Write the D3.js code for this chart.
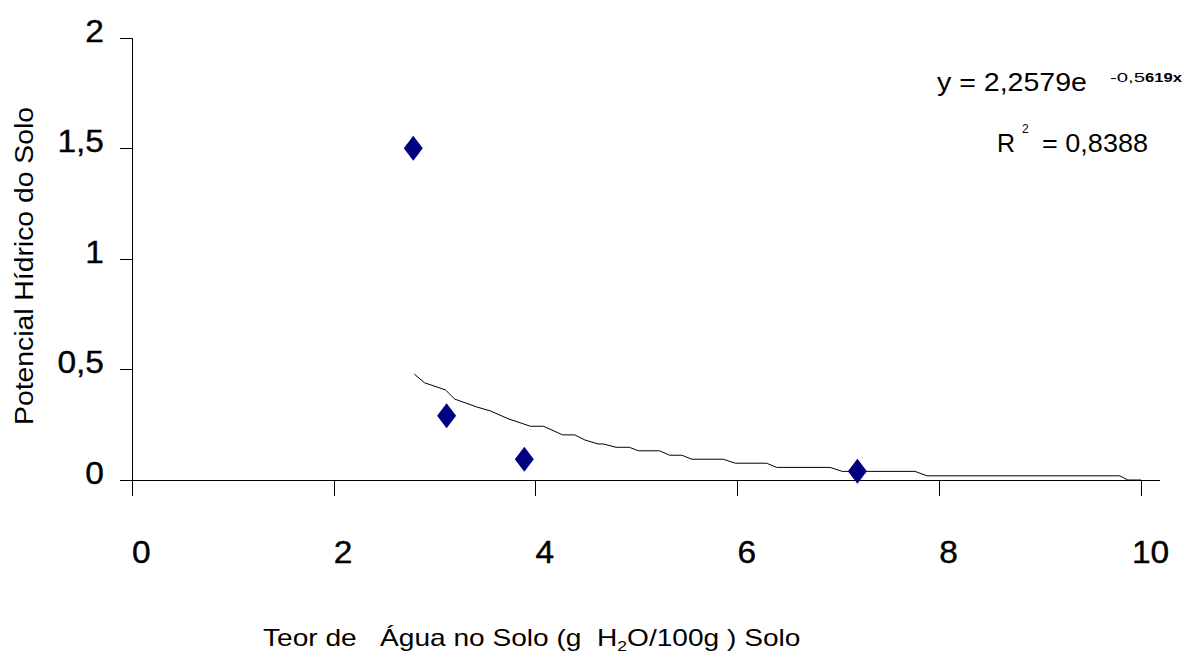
<!DOCTYPE html>
<html>
<head>
<meta charset="utf-8">
<script src="https://cdn.jsdelivr.net/npm/d3@7"></script>
<style>
  body { margin: 0; background: #fff; }
  svg { display: block; font-family: "Liberation Sans", Arial, sans-serif; }
  text { fill: #000; }
</style>
</head>
<body>
<div id="chart"></div>
<script>
// ticks
const xTicks = [0, 2, 4, 6, 8, 10];
const yTicks = [0, 0.5, 1, 1.5, 2];

// measured points (teor de agua, potencial hidrico)
const pointX = [2.79, 3.12, 3.89, 7.19];
const pointY = [1.5, 0.29, 0.094, 0.04];

// trendline as drawn in the picture (stepped)
const trendX = [2.80, 2.90, 3.11, 3.20, 3.42, 3.55, 3.73, 3.95, 4.08, 4.27, 4.39, 4.49, 4.62, 4.67,
  4.80, 4.93, 5.02, 5.23, 5.33, 5.45, 5.55, 5.86, 5.98, 6.29, 6.39, 6.92, 7.04, 7.76, 7.88, 9.79, 9.87, 10.0];
const trendY = [0.479, 0.440, 0.407, 0.366, 0.330, 0.313, 0.277, 0.243, 0.243, 0.204, 0.204, 0.181, 0.163, 0.163,
  0.148, 0.148, 0.132, 0.132, 0.112, 0.112, 0.094, 0.094, 0.076, 0.076, 0.057, 0.057, 0.039, 0.039, 0.019, 0.019, 0, 0];

const svgWidth = 1185, svgHeight = 656;
const fmt = d => String(d).replace(".", ",");

const svg = d3.select("#chart").append("svg")
    .attr("width", svgWidth)
    .attr("height", svgHeight);

let x = d3.scaleLinear().domain([0, 10]).range([131.7, 1141]);
let y = d3.scaleLinear().domain([0, 2]).range([480, 37.7]);

// stretch a text horizontally (the reference font is wider than Arial)
function stretch(sel, k) {
    sel.each(function () {
        let w = this.getComputedTextLength();
        d3.select(this).attr("textLength", w * k).attr("lengthAdjust", "spacingAndGlyphs");
    });
}

// x axis
let xAxis = svg.append("g")
    .attr("transform", "translate(0," + y(0) + ")")
    .call(d3.axisBottom(x).tickValues(xTicks).tickSize(16).tickSizeOuter(0).tickFormat(fmt));
xAxis.select(".domain").remove();
xAxis.append("line")
    .attr("x1", x(0)).attr("x2", x(10) + 19)
    .attr("stroke", "#000");
xAxis.selectAll("line").attr("stroke", "#000").attr("shape-rendering", "crispEdges");
xAxis.selectAll(".tick text")
    .attr("x", 9).attr("y", 83).attr("dy", 0)
    .attr("fill", "#000")
    .style("font-size", "31px")
    .attr("stroke", "#000").attr("stroke-width", 0.4)
    .call(stretch, 1.08);

// y axis
let yAxis = svg.append("g")
    .attr("transform", "translate(" + x(0) + ",0)")
    .call(d3.axisLeft(y).tickValues(yTicks).tickSize(12).tickSizeOuter(0).tickFormat(fmt));
yAxis.select(".domain").attr("stroke", "#000").attr("shape-rendering", "crispEdges");
yAxis.selectAll("line").attr("stroke", "#000").attr("shape-rendering", "crispEdges");
yAxis.selectAll(".tick text")
    .attr("x", -27.7).attr("dy", 3.5)
    .attr("fill", "#000")
    .style("font-size", "31px")
    .attr("stroke", "#000").attr("stroke-width", 0.4)
    .call(stretch, 1.08);

// axis titles
svg.append("text")
    .attr("transform", "translate(33,266) rotate(-90)")
    .attr("text-anchor", "middle")
    .style("font-size", "26px")
    .attr("textLength", 318).attr("lengthAdjust", "spacingAndGlyphs")
    .text("Potencial Hídrico do Solo");

let xt = svg.append("text")
    .attr("x", 263).attr("y", 646)
    .style("font-size", "24px")
    .style("white-space", "pre");
xt.append("tspan").text("Teor de   Água no Solo (g  H");
xt.append("tspan").attr("dy", 5).style("font-size", "15px").text("2");
xt.append("tspan").attr("dy", -5).text("O/100g ) Solo");
stretch(xt, 1.17);

// trendline
let line = d3.line()
    .x((d, i) => x(trendX[i]))
    .y((d, i) => y(trendY[i]));
svg.append("path")
    .datum(trendX)
    .attr("d", line)
    .attr("fill", "none")
    .attr("stroke", "#000")
    .attr("stroke-width", 1);

// points
svg.selectAll(".pt")
    .data(pointX)
    .enter().append("path")
    .attr("class", "pt")
    .attr("d", "M0,-12.5L9.5,0L0,12.5L-9.5,0Z")
    .attr("fill", "#000080")
    .attr("transform", (d, i) => "translate(" + x(d) + "," + y(pointY[i]) + ")");

// equation
svg.append("text").attr("x", 937).attr("y", 91)
    .style("font-size", "25px")
    .attr("textLength", 150).attr("lengthAdjust", "spacingAndGlyphs")
    .text("y = 2,2579e");
svg.append("text").attr("x", 1110).attr("y", 82)
    .style("font-size", "12px")
    .attr("textLength", 35).attr("lengthAdjust", "spacingAndGlyphs")
    .text("-0,5");
svg.append("text").attr("x", 1145).attr("y", 82)
    .style("font-size", "12px").style("font-weight", "bold")
    .attr("textLength", 37).attr("lengthAdjust", "spacingAndGlyphs")
    .text("619x");
svg.append("text").attr("x", 997).attr("y", 152)
    .style("font-size", "25px")
    .text("R");
svg.append("text").attr("x", 1022).attr("y", 133)
    .style("font-size", "12px")
    .text("2");
svg.append("text").attr("x", 1042).attr("y", 152)
    .style("font-size", "25px")
    .attr("textLength", 106).attr("lengthAdjust", "spacingAndGlyphs")
    .text("= 0,8388");
</script>
</body>
</html>
